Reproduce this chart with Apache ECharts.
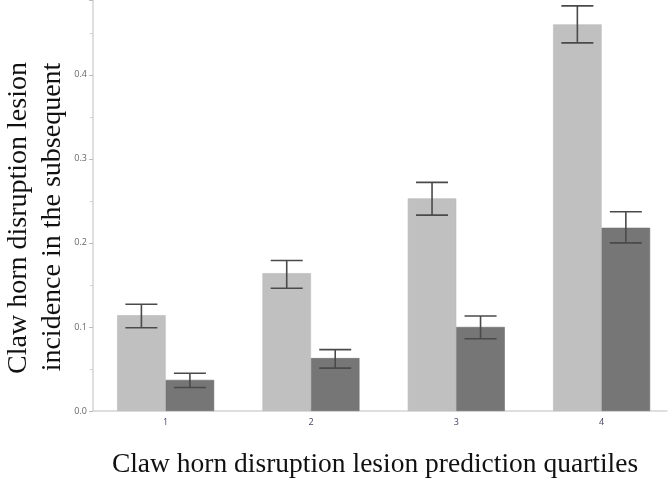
<!DOCTYPE html>
<html>
<head>
<meta charset="utf-8">
<script src="https://cdn.jsdelivr.net/npm/echarts@6/dist/echarts.min.js"></script>
<style>html,body{margin:0;padding:0;background:#fff}#c{width:668px;height:480px}</style>
</head>
<body>
<div id="c"></div>
<script>
// Quartile positions (category labels) and values
const quartiles = [1, 2, 3, 4];
const tickLabels = ['1', '2', '3', '4'];
const lightMean = [0.114, 0.164, 0.253, 0.460];
const lightLow  = [0.099, 0.146, 0.233, 0.438];
const lightHigh = [0.127, 0.179, 0.272, 0.482];
const darkMean  = [0.037, 0.063, 0.100, 0.218];
const darkLow   = [0.028, 0.051, 0.086, 0.200];
const darkHigh  = [0.045, 0.073, 0.113, 0.237];
const yTitle1 = 'Claw horn disruption lesion';
const yTitle2 = 'incidence in the subsequent';
const xTitle = 'Claw horn disruption lesion prediction quartiles';

const BAR_W = 48.5;
const CAP_HALF = 16;

function errSeries(low, high, offset) {
  return {
    type: 'custom',
    z: 5,
    data: quartiles.map((q, i) => [q, low[i], high[i]]),
    encode: { x: 0, y: [1, 2] },
    renderItem: function (params, api) {
      const x = api.value(0);
      const top = api.coord([x, api.value(2)]);
      const bot = api.coord([x, api.value(1)]);
      const cx = top[0] + offset;
      const st = { stroke: '#4a4a4a', lineWidth: 1.6 };
      return {
        type: 'group',
        children: [
          { type: 'line', shape: { x1: cx, y1: top[1], x2: cx, y2: bot[1] }, style: st },
          { type: 'line', shape: { x1: cx - CAP_HALF, y1: top[1], x2: cx + CAP_HALF, y2: top[1] }, style: st },
          { type: 'line', shape: { x1: cx - CAP_HALF, y1: bot[1], x2: cx + CAP_HALF, y2: bot[1] }, style: st }
        ]
      };
    }
  };
}

const chart = echarts.init(document.getElementById('c'), null, { renderer: 'canvas' });
chart.setOption({
  animation: false,
  backgroundColor: '#ffffff',
  grid: { left: 93, right: 1, top: 0, bottom: 69, containLabel: false },
  xAxis: {
    type: 'value',
    min: 0.5,
    max: 4.45,
    splitLine: { show: false },
    axisTick: { show: false },
    axisLine: { show: true, lineStyle: { color: '#d4d4d4', width: 1.5 } },
    axisLabel: {
      customValues: quartiles,
      formatter: function (v) { return tickLabels[quartiles.indexOf(v)] || ''; },
      color: '#4b4262',
      fontFamily: 'Open Sans',
      fontSize: 9,
      margin: 7
    }
  },
  yAxis: {
    type: 'value',
    min: 0,
    max: 0.489,
    interval: 0.1,
    splitLine: { show: false },
    axisLine: { show: true, lineStyle: { color: '#d4d4d4', width: 1.5 } },
    axisTick: { show: true, length: 4, lineStyle: { color: '#bdbdbd' } },
    minorTick: { show: true, splitNumber: 2, length: 3, lineStyle: { color: '#d0d0d0' } },
    axisLabel: {
      showMaxLabel: false,
      formatter: function (v) { return v.toFixed(1); },
      color: '#666666',
      fontFamily: 'Open Sans',
      fontSize: 9,
      margin: 6
    }
  },
  series: [
    {
      type: 'bar',
      barWidth: BAR_W,
      barGap: '0%',
      data: quartiles.map((q, i) => [q, lightMean[i]]),
      itemStyle: { color: '#c0c0c0', borderColor: '#b9b9b9', borderWidth: 0.6 }
    },
    {
      type: 'bar',
      barWidth: BAR_W,
      barGap: '0%',
      data: quartiles.map((q, i) => [q, darkMean[i]]),
      itemStyle: { color: '#767676', borderColor: '#6e6e6e', borderWidth: 0.6 }
    },
    errSeries(lightLow, lightHigh, -BAR_W / 2),
    errSeries(darkLow, darkHigh, BAR_W / 2)
  ],
  graphic: [
    {
      type: 'text', x: 19, y: 218, rotation: Math.PI / 2,
      style: { text: yTitle1, font: '28px "Liberation Serif"', fill: '#111', align: 'center', verticalAlign: 'middle' }
    },
    {
      type: 'text', x: 53, y: 217, rotation: Math.PI / 2,
      style: { text: yTitle2, font: '28px "Liberation Serif"', fill: '#111', align: 'center', verticalAlign: 'middle' }
    },
    {
      type: 'text', x: 375, y: 465,
      style: { text: xTitle, font: '27.5px "Liberation Serif"', fill: '#111', align: 'center', verticalAlign: 'middle' }
    }
  ]
});
</script>
</body>
</html>
